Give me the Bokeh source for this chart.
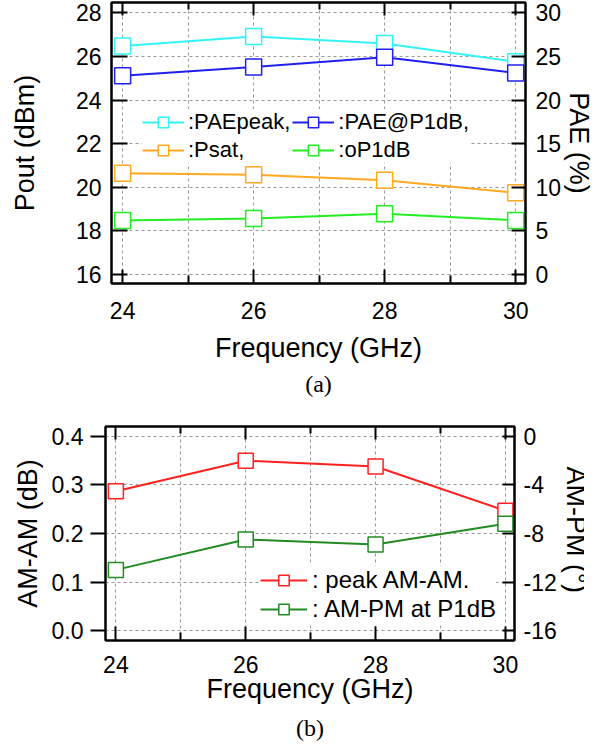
from bokeh.plotting import figure
from bokeh.models import (Range1d, LinearAxis, FixedTicker, Legend, LegendItem,
                          Title, PrintfTickFormatter)
from bokeh.layouts import column
from bokeh.embed import file_html
from bokeh.resources import INLINE

# ---------------- data ----------------
freq = [24, 26, 28, 30]                       # GHz
pae_peak = [26.2, 27.3, 26.5, 24.4]           # PAE (%)
pae_p1db = [22.8, 23.8, 24.9, 23.1]           # PAE (%)
psat = [20.63, 20.57, 20.31, 19.74]           # Pout (dBm)
op1db = [18.47, 18.56, 18.77, 18.47]          # Pout (dBm)
amam_peak = [0.287, 0.350, 0.338, 0.247]      # AM-AM (dB)
ampm_p1db = [-11.0, -8.5, -8.9, -7.2]         # AM-PM (deg)

freq_ticks = [24, 26, 28, 30]
freq_minor = [25, 27, 29]
freq_grid = [24, 25, 26, 27, 28, 29, 30]
pout_ticks = [16, 18, 20, 22, 24, 26, 28]
pae_ticks = [0, 5, 10, 15, 20, 25, 30]
amam_ticks = [0.0, 0.1, 0.2, 0.3, 0.4]
ampm_ticks = [-16, -12, -8, -4, 0]

FONT = "Liberation Sans"
SERIF = "Liberation Serif"
C_CYAN = "#33f4f4"
C_BLUE = "#2020ee"
C_ORANGE = "#ffa820"
C_GREEN = "#22ee22"
C_RED = "#ff2020"
C_DGREEN = "#238b23"


def style_axis(ax, tin, tout, tick_size="23px"):
    ax.axis_line_width = 2
    ax.axis_line_color = "black"
    ax.major_tick_line_width = 2
    ax.major_tick_line_color = "black"
    ax.major_tick_in = tin
    ax.major_tick_out = tout
    ax.minor_tick_line_width = 2
    ax.minor_tick_line_color = "black"
    ax.major_label_text_font = FONT
    ax.major_label_text_font_size = tick_size
    ax.major_label_text_color = "black"
    ax.axis_label_text_font = FONT
    ax.axis_label_text_font_size = "27px"
    ax.axis_label_text_font_style = "normal"
    ax.axis_label_text_color = "black"


def style_grid(p):
    for g in (p.xgrid, p.ygrid):
        g.grid_line_color = "#999999"
        g.grid_line_dash = "3 3"
        g.grid_line_width = 1
    p.xgrid.ticker = FixedTicker(ticks=freq_grid)


def top_axis(p):
    ax = LinearAxis(ticker=FixedTicker(ticks=freq_ticks, minor_ticks=freq_minor))
    style_axis(ax, 13, 0, "1px")
    ax.major_label_text_color = None
    ax.minor_tick_in = 7
    ax.minor_tick_out = 0
    ax.major_label_standoff = 0
    p.add_layout(ax, "above")


def series(p, x, y, color, size, rng="default"):
    l = p.line(x, y, line_color=color, line_width=2, y_range_name=rng)
    s = p.scatter(x, y, marker="square", size=size, fill_color="white",
                  line_color=color, line_width=1.5, y_range_name=rng)
    return [l, s]


# ---------------- (a) ----------------
p1 = figure(frame_width=414, frame_height=281, title=None,
            x_range=Range1d(23.83, 30.15), y_range=Range1d(15.57, 28.48),
            output_backend="svg", toolbar_location=None,
            min_border_left=0, min_border_right=0,
            min_border_top=2, min_border_bottom=0)
p1.margin = (0, 8, 0, 6)
p1.extra_y_ranges = {"pae": Range1d((15.57 - 16) * 2.5, (28.48 - 16) * 2.5)}
p1.outline_line_color = "black"
p1.outline_line_width = 2

p1.xaxis.ticker = FixedTicker(ticks=freq_ticks, minor_ticks=freq_minor)
p1.xaxis.axis_label = "Frequency (GHz)"
style_axis(p1.xaxis[0], 14, 0)
p1.xaxis.minor_tick_in = 8
p1.xaxis.minor_tick_out = 0
p1.xaxis.major_label_standoff = 18
p1.xaxis.axis_label_standoff = 11

p1.yaxis.ticker = FixedTicker(ticks=pout_ticks)
p1.yaxis.axis_label = "Pout (dBm)"
style_axis(p1.yaxis[0], 16, 0)
p1.yaxis.minor_tick_line_color = None
p1.yaxis.major_label_standoff = 10
p1.yaxis.axis_label_standoff = 33

r1 = LinearAxis(y_range_name="pae", ticker=FixedTicker(ticks=pae_ticks),
                axis_label="PAE (%)")
style_axis(r1, 14, 0)
r1.minor_tick_line_color = None
r1.major_label_standoff = 10
r1.axis_label_standoff = 0
p1.add_layout(r1, "right")
top_axis(p1)
style_grid(p1)

g_peak = series(p1, freq, pae_peak, C_CYAN, 16, "pae")
g_p1 = series(p1, freq, pae_p1db, C_BLUE, 16, "pae")
g_psat = series(p1, freq, psat, C_ORANGE, 16)
g_op = series(p1, freq, op1db, C_GREEN, 16)

leg1 = Legend(items=[LegendItem(label=":PAEpeak,", renderers=g_peak),
                     LegendItem(label=":Psat,", renderers=g_psat),
                     LegendItem(label=":PAE@P1dB,", renderers=g_p1),
                     LegendItem(label=":oP1dB", renderers=g_op)],
              ncols=2, location=(31, 120), margin=0, padding=0, spacing=2,
              border_line_color=None, background_fill_color="white",
              background_fill_alpha=1.0, glyph_width=42, glyph_height=26,
              label_height=26, label_standoff=4, label_text_font=FONT,
              label_text_font_size="22px", label_text_color="black")
p1.add_layout(leg1)
p1.add_layout(Title(text="(a)", align="center", text_font=SERIF,
                    text_font_size="24px", text_font_style="normal",
                    text_color="black", standoff=6), "below")

# ---------------- (b) ----------------
p2 = figure(frame_width=409, frame_height=214, title=None,
            x_range=Range1d(23.84, 30.14), y_range=Range1d(-0.0206, 0.4206),
            output_backend="svg", toolbar_location=None,
            min_border_left=0, min_border_right=0,
            min_border_top=2, min_border_bottom=0)
p2.margin = (25, 0, 0, 0)
p2.extra_y_ranges = {"ampm": Range1d((-0.0206 - 0.4) * 40, (0.4206 - 0.4) * 40)}
p2.outline_line_color = "black"
p2.outline_line_width = 2

p2.xaxis.ticker = FixedTicker(ticks=freq_ticks, minor_ticks=freq_minor)
p2.xaxis.axis_label = "Frequency (GHz)"
style_axis(p2.xaxis[0], 14, 0)
p2.xaxis.minor_tick_in = 8
p2.xaxis.minor_tick_out = 0
p2.xaxis.major_label_standoff = 15
p2.xaxis.axis_label_standoff = -2

p2.yaxis.ticker = FixedTicker(ticks=amam_ticks)
p2.yaxis.formatter = PrintfTickFormatter(format="%.1f")
p2.yaxis.axis_label = "AM-AM (dB)"
style_axis(p2.yaxis[0], 0, 15)
p2.yaxis.minor_tick_line_color = None
p2.yaxis.major_label_standoff = 7
p2.yaxis.axis_label_standoff = 6

r2 = LinearAxis(y_range_name="ampm", ticker=FixedTicker(ticks=ampm_ticks),
                axis_label="AM-PM  (°)", formatter=PrintfTickFormatter(format="%d"))
style_axis(r2, 12, 0)
r2.minor_tick_line_color = None
r2.major_label_standoff = 9
r2.axis_label_standoff = 1
p2.add_layout(r2, "right")
top_axis(p2)
style_grid(p2)

g_amam = series(p2, freq, amam_peak, C_RED, 15)
g_ampm = series(p2, freq, ampm_p1db, C_DGREEN, 15, "ampm")

leg2 = Legend(items=[LegendItem(label=": peak AM-AM.", renderers=g_amam),
                     LegendItem(label=": AM-PM at P1dB", renderers=g_ampm)],
              location=(155, 17), margin=0, padding=0, spacing=1,
              border_line_color=None, background_fill_color="white",
              background_fill_alpha=1.0, glyph_width=47, glyph_height=26,
              label_height=26, label_standoff=5, label_text_font=FONT,
              label_text_font_size="24px", label_text_color="black")
p2.add_layout(leg2)
p2.add_layout(Title(text="(b)", align="center", text_font=SERIF,
                    text_font_size="24px", text_font_style="normal",
                    text_color="black", standoff=13), "below")

layout = column(p1, p2, spacing=0)
open("out.html", "w").write(file_html(layout, INLINE))
